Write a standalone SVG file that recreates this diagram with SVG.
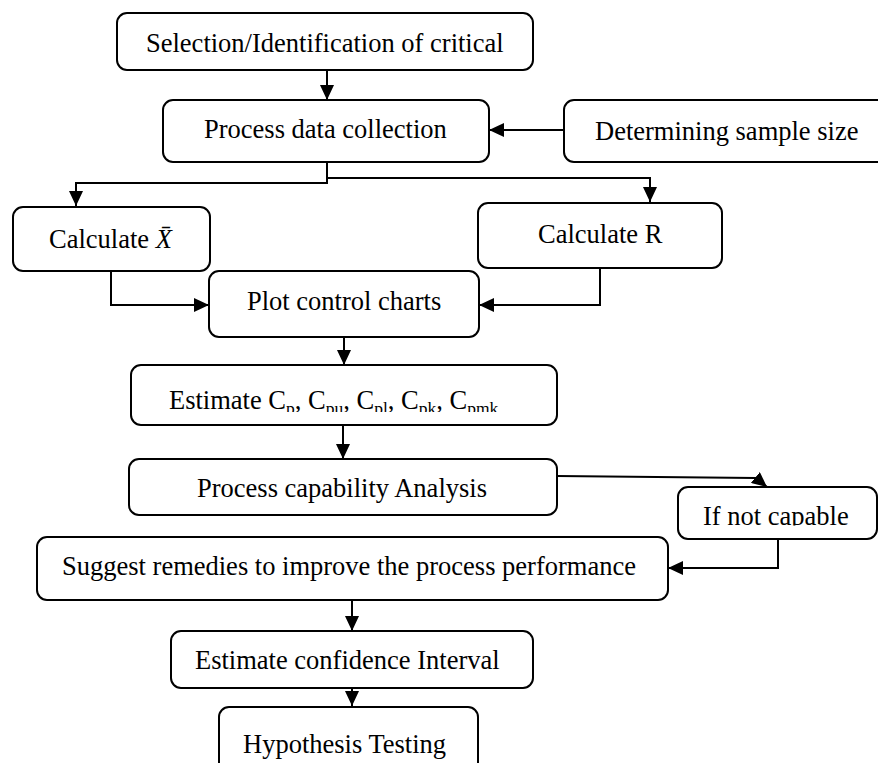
<svg xmlns="http://www.w3.org/2000/svg" width="878" height="763" viewBox="0 0 878 763">
<style>
.box{fill:#fff;stroke:#000;stroke-width:2}
.t{font-family:"Liberation Serif","Times New Roman",serif;font-size:26.5px;fill:#000}
.c{fill:none;stroke:#000;stroke-width:2}
</style>
<defs>
<marker id="ah" markerUnits="userSpaceOnUse" markerWidth="16" markerHeight="14" refX="15" refY="7" orient="auto">
<path d="M0,0 L15,7 L0,14 Z" fill="#000"/>
</marker>
<clipPath id="clipE"><rect x="131" y="365" width="426" height="47"/></clipPath>
<clipPath id="clipI"><rect x="678" y="487" width="199" height="38.5"/></clipPath>
</defs>
<rect width="878" height="763" fill="#fff"/>
<g id="connectors">
<path class="c" d="M327,70 V100" marker-end="url(#ah)"/>
<path class="c" d="M564,130 H489" marker-end="url(#ah)"/>
<path class="c" d="M327,162 V183 H76 V206" marker-end="url(#ah)"/>
<path class="c" d="M327,178 H650 V202" marker-end="url(#ah)"/>
<path class="c" d="M111,271 V305 H209" marker-end="url(#ah)"/>
<path class="c" d="M600,268 V305 H479" marker-end="url(#ah)"/>
<path class="c" d="M344,337 V365" marker-end="url(#ah)"/>
<path class="c" d="M343,425 V459" marker-end="url(#ah)"/>
<path class="c" d="M557,476 L756,478 L767,487" marker-end="url(#ah)"/>
<path class="c" d="M778,539 V568 H668" marker-end="url(#ah)"/>
<path class="c" d="M352,600 V631" marker-end="url(#ah)"/>
<path class="c" d="M352,688 V706" marker-end="url(#ah)"/>
</g>
<g id="n1"><rect class="box" x="117" y="13" width="416" height="57" rx="10"/><text class="t" x="146" y="52">Selection/Identification of critical</text></g>
<g id="n2"><rect class="box" x="163" y="100" width="326" height="62" rx="10"/><text class="t" x="204" y="138">Process data collection</text></g>
<g id="n3"><rect class="box" x="564" y="100" width="330" height="62" rx="10"/><text class="t" x="595" y="140">Determining sample size</text></g>
<g id="n4"><rect class="box" x="13" y="207" width="197" height="64" rx="10"/><text class="t" x="49" y="248">Calculate <tspan font-style="italic">X̄</tspan></text></g>
<g id="n5"><rect class="box" x="478" y="203" width="244" height="65" rx="10"/><text class="t" x="538" y="243">Calculate R</text></g>
<g id="n6"><rect class="box" x="209" y="271" width="270" height="66" rx="10"/><text class="t" x="247" y="310">Plot control charts</text></g>
<g id="n7"><rect class="box" x="131" y="365" width="426" height="60" rx="10"/><text class="t" x="169" y="409" clip-path="url(#clipE)">Estimate C<tspan font-size="17.5" dy="5">p</tspan><tspan dy="-5">, C</tspan><tspan font-size="17.5" dy="5">pu</tspan><tspan dy="-5">, C</tspan><tspan font-size="17.5" dy="5">pl</tspan><tspan dy="-5">, C</tspan><tspan font-size="17.5" dy="5">pk</tspan><tspan dy="-5">, C</tspan><tspan font-size="17.5" dy="5">pmk</tspan></text></g>
<g id="n8"><rect class="box" x="129" y="459" width="428" height="56" rx="10"/><text class="t" x="197" y="497">Process capability Analysis</text></g>
<g id="n9"><rect class="box" x="678" y="487" width="199" height="52" rx="10"/><text class="t" x="703" y="525" clip-path="url(#clipI)">If not capable</text></g>
<g id="n10"><rect class="box" x="37" y="537" width="631" height="63" rx="10"/><text class="t" x="62" y="575">Suggest remedies to improve the process performance</text></g>
<g id="n11"><rect class="box" x="171" y="631" width="362" height="57" rx="10"/><text class="t" x="195" y="669">Estimate confidence Interval</text></g>
<g id="n12"><rect class="box" x="219" y="707" width="259" height="70" rx="10"/><text class="t" x="243" y="753">Hypothesis Testing</text></g>
</svg>
